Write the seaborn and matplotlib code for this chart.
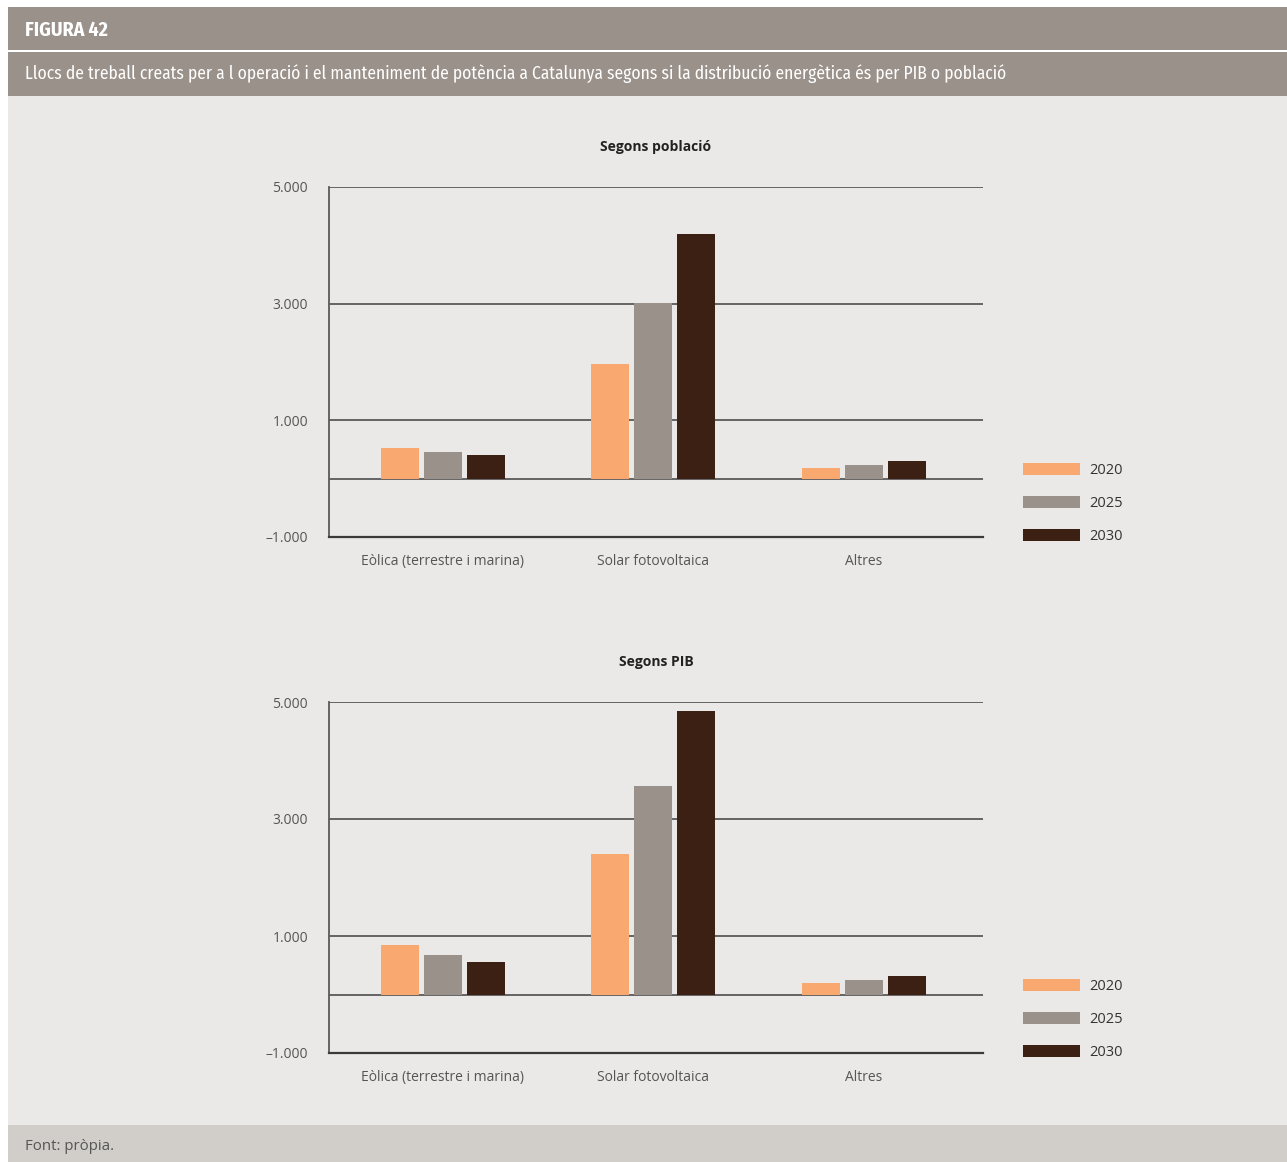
import matplotlib
matplotlib.use("Agg")
import matplotlib.pyplot as plt
from matplotlib.patches import Rectangle
from matplotlib.ticker import FuncFormatter
import seaborn as sns
import pandas as pd

# ---- data ----
categories = ["Eòlica (terrestre i marina)", "Solar fotovoltaica", "Altres"]
years = ["2020", "2025", "2030"]
poblacio_2020 = [520, 1960, 190]
poblacio_2025 = [450, 3010, 230]
poblacio_2030 = [400, 4190, 300]
pib_2020 = [840, 2410, 190]
pib_2025 = [670, 3570, 255]
pib_2030 = [550, 4840, 310]
yticks = [-1000, 1000, 3000, 5000]
title_top = "Segons població"
title_bottom = "Segons PIB"
fig_label = "FIGURA 42"
fig_title = ("Llocs de treball creats per a l operació i el manteniment de potència a "
             "Catalunya segons si la distribució energètica és per PIB o població")
source = "Font: pròpia."

colors = ["#f9a870", "#9a918a", "#3b2013"]


def make_df(v2020, v2025, v2030):
    rows = []
    for yr, vals in zip(years, [v2020, v2025, v2030]):
        for c, v in zip(categories, vals):
            rows.append({"cat": c, "year": yr, "value": v})
    return pd.DataFrame(rows)


df_pob = make_df(poblacio_2020, poblacio_2025, poblacio_2030)
df_pib = make_df(pib_2020, pib_2025, pib_2030)

sns.set_theme(style="white")
body_font = ["Open Sans", "DejaVu Sans"]
narrow_font = ["Fira Sans Condensed", "PT Sans Narrow", "DejaVu Sans"]
plt.rcParams["font.family"] = body_font

W, H = 1287, 1162
fig = plt.figure(figsize=(W / 100, H / 100), dpi=100)
fig.patch.set_facecolor("white")


def px_rect(x0, y0, x1, y1, color):
    fig.patches.append(Rectangle((x0 / W, 1 - y1 / H), (x1 - x0) / W, (y1 - y0) / H,
                                 transform=fig.transFigure, facecolor=color,
                                 edgecolor="none", zorder=-5))


px_rect(8, 7, W, 50, "#9a918a")
px_rect(8, 52, W, 96, "#9a918a")
px_rect(8, 96, W, 1125, "#ebe9e7")
px_rect(8, 1125, W, H, "#d1cdc8")

renderer = fig.canvas.get_renderer()


def fit_text(x, y, s, target_w, size, **kw):
    t = fig.text(x / W, 1 - y / H, s, fontsize=size, va="center", ha="left", **kw)
    w = t.get_window_extent(renderer).width
    if w > 0:
        t.set_fontsize(size * target_w / w)
    return t


fit_text(25, 30, fig_label, 83, 14, color="white", fontweight="bold", family=narrow_font)
fit_text(25, 74, fig_title, 983, 13, color="white", family=narrow_font)
fig.text(25 / W, 1 - 1147 / H, source, color="#555555", fontsize=10.8,
         va="center", ha="left")


def fmt(v, pos):
    s = f"{abs(int(v)):,}".replace(",", ".")
    return ("\u2013" + s) if v < 0 else s


def draw(ax, df, title, legend_y):
    sns.barplot(data=df, x="cat", y="value", hue="year", hue_order=years,
                order=categories, palette=colors, width=0.613, gap=0.12,
                saturation=1, ax=ax, errorbar=None, zorder=3,
                edgecolor="none", linewidth=0)
    ax.set_facecolor("none")
    ax.set_ylim(-1000, 5000)
    ax.set_xlim(-0.54, 2.565)
    ax.set_yticks(yticks)
    ax.yaxis.set_major_formatter(FuncFormatter(fmt))
    for yv in [5000, 3000, 1000, 0]:
        ax.axhline(yv, color="#5a5a5a", lw=1.3, zorder=2)
    for s in ["top", "right"]:
        ax.spines[s].set_visible(False)
    ax.spines["left"].set_color("#5a5a5a")
    ax.spines["left"].set_linewidth(1.3)
    ax.spines["bottom"].set_color("#3a3a3a")
    ax.spines["bottom"].set_linewidth(1.6)
    ax.tick_params(axis="both", length=0, labelsize=10, colors="#555555")
    ax.tick_params(axis="y", pad=15)
    ax.tick_params(axis="x", pad=12)
    ax.set_xlabel("")
    ax.set_ylabel("")
    ax.set_title(title, fontsize=10, fontweight="bold", color="#222222", pad=26)
    handles, labels = ax.get_legend_handles_labels()
    ax.legend(handles, labels, loc="center left",
              bbox_to_anchor=(1010 / W, 1 - legend_y / H),
              bbox_transform=fig.transFigure, frameon=False,
              handlelength=3.9, handleheight=0.85, handletextpad=0.65,
              labelspacing=1.25, fontsize=10.5, labelcolor="#333333")


ax1 = fig.add_axes([329 / W, 1 - 537 / H, 654 / W, 350 / H])
ax2 = fig.add_axes([329 / W, 1 - 1053 / H, 654 / W, 351 / H])
draw(ax1, df_pob, title_top, 503.5)
draw(ax2, df_pib, title_bottom, 1019.5)

fig.savefig("out.png", dpi=100, facecolor=fig.get_facecolor())
